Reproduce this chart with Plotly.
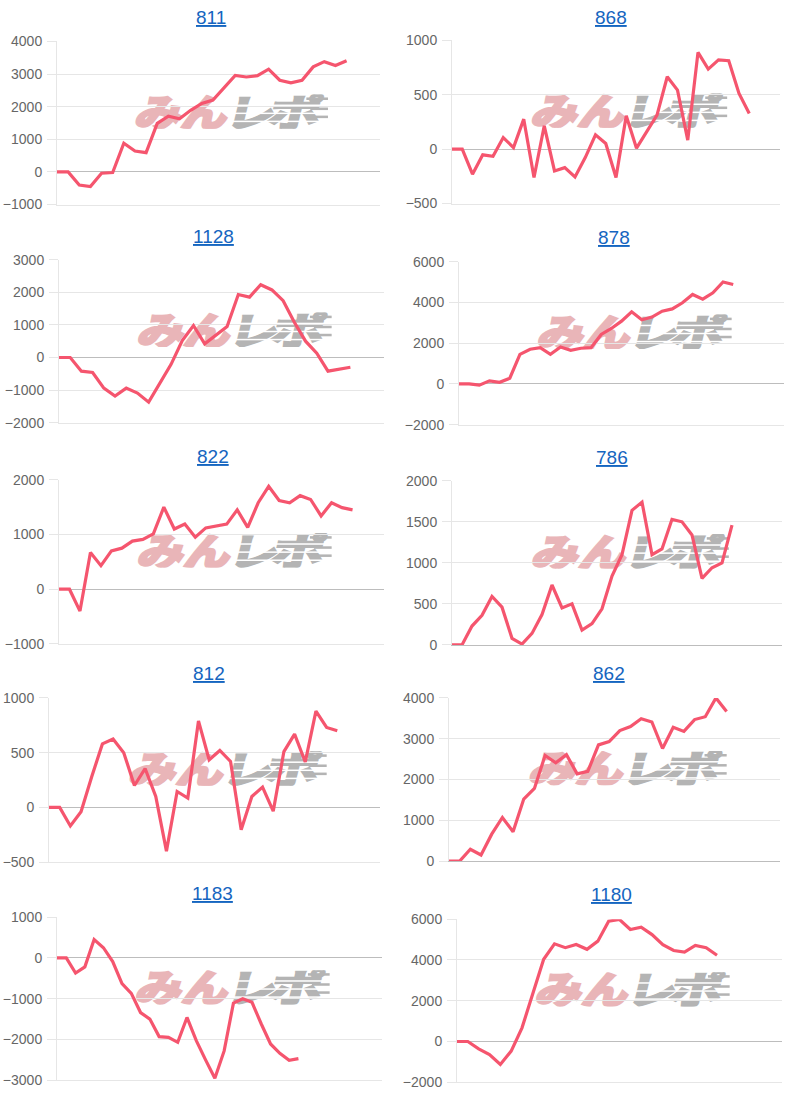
import base64
import plotly.graph_objects as go

W, H = 800, 1095

# ---------------- data ----------------
titles = ["811", "868", "1128", "878", "822", "786", "812", "862", "1183", "1180"]

s811 = [0, 0, -400, -450, -40, -20, 880, 640, 590, 1490, 1710, 1630, 1890, 2100,
        2200, 2590, 2960, 2910, 2950, 3150, 2810, 2730, 2810, 3220, 3380, 3260, 3410]
s868 = [0, 0, -230, -52, -65, 107, 15, 276, -260, 215, -200, -170, -255, -77, 132,
        52, -260, 307, 9, 163, 313, 666, 543, 83, 890, 736, 822, 813, 512, 328]
s1128 = [0, 0, -420, -460, -940, -1180, -940, -1090, -1370, -780, -210, 520, 980,
         420, 670, 950, 1930, 1850, 2230, 2070, 1740, 1080, 500, 130, -420, -350, -300]
s878 = [0, 0, -60, 150, 80, 280, 1450, 1700, 1780, 1450, 1810, 1650, 1750, 1780,
        2430, 2720, 3080, 3540, 3150, 3280, 3570, 3680, 3980, 4390, 4160, 4470, 5000, 4880]
s822 = [0, 0, -400, 670, 430, 700, 750, 880, 910, 1010, 1500, 1100, 1190, 950, 1120,
        1160, 1190, 1450, 1130, 1580, 1880, 1620, 1580, 1710, 1640, 1340, 1580, 1490, 1450]
s786 = [0, 0, 230, 360, 590, 460, 80, 10, 140, 370, 730, 450, 500, 180, 260, 440,
        840, 1100, 1640, 1740, 1100, 1170, 1530, 1500, 1340, 810, 940, 1000, 1460]
s812 = [0, 0, -170, -40, 280, 580, 625, 500, 200, 355, 100, -400, 145, 85, 790, 435,
        520, 420, -205, 100, 185, -35, 510, 670, 415, 880, 730, 700]
s862 = [0, 0, 290, 150, 660, 1070, 720, 1520, 1780, 2590, 2410, 2610, 2140, 2200,
        2850, 2930, 3200, 3300, 3490, 3410, 2760, 3280, 3180, 3470, 3540, 4000, 3670]
s1183 = [0, 0, -370, -220, 450, 250, -90, -630, -870, -1340, -1500, -1930, -1950,
         -2070, -1460, -2030, -2500, -2950, -2280, -1110, -1000, -1090, -1620, -2110,
         -2340, -2510, -2470]
s1180 = [0, 0, -360, -640, -1130, -470, 670, 2300, 4030, 4790, 4600, 4760, 4520, 4920,
         5900, 5980, 5490, 5600, 5240, 4750, 4460, 4380, 4710, 4600, 4230]

series = [s811, s868, s1128, s878, s822, s786, s812, s862, s1183, s1180]

# number of x-axis categories in each chart (more slots than points)
label_counts = [30, 33, 30, 33, 32, 34, 32, 32, 36, 31]

y_mins = [-1000, -500, -2000, -2000, -1000, 0, -500, 0, -3000, -2000]
y_maxs = [4000, 1000, 3000, 6000, 2000, 2000, 1000, 4000, 1000, 6000]
y_steps = [1000, 500, 1000, 2000, 1000, 500, 500, 1000, 1000, 2000]

# ---------------- layout geometry (pixels, as seen in the target) ----------------
boxes = [  # left, right, top, bottom of each plot area
    (57, 380, 41, 204), (452, 780, 40, 203),
    (59, 384, 259, 422), (459, 784, 261, 424),
    (59, 384, 479, 643), (452, 782, 480, 644),
    (49, 380, 697, 861), (449, 780, 697, 860),
    (57, 382, 916, 1079), (457, 782, 918, 1081),
]
title_xy = [(211, 17), (611, 17), (213, 236), (614, 237), (213, 456), (612, 457),
            (209, 673), (609, 673), (212, 892), (611, 893)]


def vy(y):
    # compensate the vertical mapping observed in the rendered page
    return (y - 7.6) / 0.9846


LINE = "#f5556e"
GRID = "#e6e6e6"
ZERO = "#bdbdbd"
TICKFONT = dict(family="Liberation Sans, Arial, sans-serif", size=14, color="#666666")

# watermark logo as svg image
svg = """<svg xmlns='http://www.w3.org/2000/svg' width='200' height='34' viewBox='0 0 200 34' preserveAspectRatio='none'>
<g transform='skewX(-14) translate(8,0)' font-family='Noto Sans CJK JP, sans-serif' font-weight='900' font-size='38'>
<text x='0' y='32' textLength='94' lengthAdjust='spacingAndGlyphs' fill='#e9b5b8' stroke='#e9b5b8' stroke-width='2'>みん</text>
<text x='92' y='32' textLength='50' lengthAdjust='spacingAndGlyphs' fill='#b4b4b4' stroke='#b4b4b4' stroke-width='1.5'>レ</text>
<text x='134' y='32' textLength='54' lengthAdjust='spacingAndGlyphs' fill='#b4b4b4' stroke='#b4b4b4' stroke-width='1.5'>ポ</text>
</g>
<g fill='#ffffff'>
<rect x='98' y='10' width='102' height='1.5'/>
<rect x='98' y='18' width='102' height='1.5'/>
<rect x='98' y='26' width='102' height='1.5'/>
</g>
<g fill='#b4b4b4'>
<rect x='176' y='3' width='22' height='2.5'/>
<rect x='180' y='13' width='18' height='2.5'/>
<rect x='178' y='21' width='20' height='2.5'/>
</g>
</svg>"""
logo_src = "data:image/svg+xml;base64," + base64.b64encode(svg.encode("utf-8")).decode("ascii")

fig = go.Figure()
annotations = []
images = []

for i, vals in enumerate(series):
    n = i + 1
    xa = "x" if n == 1 else f"x{n}"
    ya = "y" if n == 1 else f"y{n}"
    L, R, T, B = boxes[i]
    T, B = vy(T), vy(B)
    xdom = [L / W, R / W]
    ydom = [1 - B / H, 1 - T / H]

    fig.add_trace(go.Scatter(
        x=list(range(len(vals))), y=vals, mode="lines",
        line=dict(color=LINE, width=3.2), cliponaxis=False,
        xaxis=xa, yaxis=ya, hoverinfo="skip", showlegend=False,
    ))

    bottom_col = ZERO if y_mins[i] == 0 else GRID
    fig.layout[("xaxis" if n == 1 else f"xaxis{n}")] = dict(
        domain=xdom, anchor=ya, range=[0, label_counts[i] - 1],
        showgrid=False, zeroline=False, showticklabels=False, ticks="",
        showline=True, linecolor=bottom_col, linewidth=1, fixedrange=True,
    )
    fig.layout[("yaxis" if n == 1 else f"yaxis{n}")] = dict(
        domain=ydom, anchor=xa, range=[y_mins[i], y_maxs[i]],
        tick0=y_mins[i], dtick=y_steps[i], tickformat="d",
        showgrid=True, gridcolor=GRID, gridwidth=1,
        zeroline=True, zerolinecolor=ZERO, zerolinewidth=1,
        showline=True, linecolor=GRID, linewidth=1,
        ticks="outside", ticklen=9, tickcolor=GRID, ticklabelstandoff=2,
        tickfont=TICKFONT, fixedrange=True,
    )

    cx, cy = title_xy[i]
    annotations.append(dict(
        text=titles[i], xref="paper", yref="paper", x=cx / W, y=1 - vy(cy) / H,
        xanchor="center", yanchor="middle", showarrow=False,
        font=dict(family="Liberation Sans, Arial, sans-serif", size=19,
                  color="#1565c0", lineposition="under"),
    ))

    pw, ph = R - L, B - T
    images.append(dict(
        source=logo_src, xref="paper", yref="paper",
        x=(L + 0.237 * pw) / W, y=1 - (T + 0.325 * ph) / H,
        sizex=0.608 * pw / W, sizey=0.21 * ph / H,
        xanchor="left", yanchor="top", sizing="stretch", layer="below",
    ))

fig.update_layout(
    width=W, height=H, margin=dict(l=0, r=0, t=0, b=0), autosize=False,
    paper_bgcolor="white", plot_bgcolor="rgba(0,0,0,0)",
    annotations=annotations, images=images, showlegend=False,
)

fig.write_html(
    "out.html",
    config={"responsive": False, "displayModeBar": False},
    post_script="document.body.style.margin='0';document.body.style.padding='0';"
                "document.documentElement.style.overflow='hidden';",
)
